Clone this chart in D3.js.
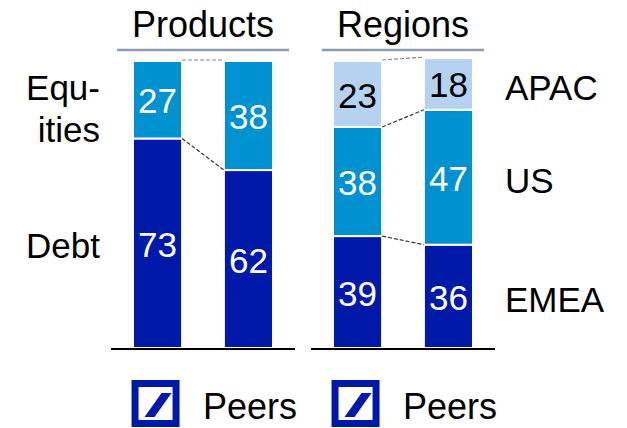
<!DOCTYPE html>
<html>
<head>
<meta charset="utf-8">
<script src="https://cdn.jsdelivr.net/npm/d3@7"></script>
<style>
  body { margin: 0; background: #fff; }
  text { font-family: "Liberation Sans", Arial, sans-serif; }
</style>
</head>
<body>
<svg id="grafico" width="627" height="428"></svg>
<script>
// Datos
var grupos = ["Products", "Regions"];
var barras = ["DB", "Peers"];
var claves_productos = ["Debt", "Equities"];
var claves_regiones = ["EMEA", "US", "APAC"];
var products_debt = [73, 62];
var products_equities = [27, 38];
var regions_emea = [39, 36];
var regions_us = [38, 47];
var regions_apac = [23, 18];
var etiquetas_izq = {"Equities": ["Equ-", "ities"], "Debt": ["Debt"]};
var etiquetas_der = {"APAC": ["APAC"], "US": ["US"], "EMEA": ["EMEA"]};

var colores = {
    "Debt": "#0019A8", "Equities": "#0092D0",
    "EMEA": "#0019A8", "US": "#0092D0", "APAC": "#B5D2F0"
};
var color_texto = {"APAC": "#000"};

var svg = d3.select("#grafico");

// Escalas
var x = d3.scaleBand().domain(grupos).range([103, 503]);
var xBarra = d3.scaleBand().domain(barras).range([0, 200])
    .paddingInner(0.46).paddingOuter(0.33);
var y = d3.scaleLinear().domain([0, 100]).range([348, 61]);
var bw = xBarra.bandwidth();

// Filas para cada grupo
var filas_productos = barras.map((b, i) => ({bar: b, Debt: products_debt[i], Equities: products_equities[i]}));
var filas_regiones = barras.map((b, i) => ({bar: b, EMEA: regions_emea[i], US: regions_us[i], APAC: regions_apac[i]}));

var pilas = {
    "Products": d3.stack().keys(claves_productos)(filas_productos),
    "Regions": d3.stack().keys(claves_regiones)(filas_regiones)
};

grupos.forEach(function(grupo){
    var g = svg.append("g").attr("transform", "translate(" + x(grupo) + ",0)");
    var capas = pilas[grupo];

    // Título y línea gris
    var titulo = g.append("text")
        .attr("x", x.bandwidth() / 2)
        .attr("y", 37)
        .attr("text-anchor", "middle")
        .style("font-size", "36px")
        .text(grupo);
    var ancho_titulo = titulo.node().getComputedTextLength();
    g.append("line")
        .attr("x1", x.bandwidth() / 2 - ancho_titulo / 2 - 15)
        .attr("x2", x.bandwidth() / 2 + ancho_titulo / 2 + 15)
        .attr("y1", 50).attr("y2", 50)
        .attr("stroke", "#8C9BB0")
        .attr("stroke-width", 2.5);

    // Segmentos
    capas.forEach(function(capa){
        g.selectAll(null)
            .data(capa)
            .enter()
            .append("rect")
            .attr("x", d => xBarra(d.data.bar))
            .attr("y", d => y(d[1]))
            .attr("width", bw)
            .attr("height", d => y(d[0]) - y(d[1]))
            .attr("fill", colores[capa.key])
            .attr("stroke", "#fff")
            .attr("stroke-width", 2);

        g.selectAll(null)
            .data(capa)
            .enter()
            .append("text")
            .attr("x", d => xBarra(d.data.bar) + bw / 2)
            .attr("y", d => (y(d[0]) + y(d[1])) / 2 + 13.5)
            .attr("text-anchor", "middle")
            .style("font-size", "35px")
            .attr("fill", color_texto[capa.key] || "#fff")
            .text(d => d[1] - d[0]);
    });

    // Conectores punteados
    capas.forEach(function(capa, i){
        var a = capa[0], b = capa[1];
        var arriba = i == capas.length - 1;
        g.append("line")
            .attr("x1", xBarra(a.data.bar) + bw)
            .attr("y1", y(a[1]) - (arriba ? 1 : 0))
            .attr("x2", xBarra(b.data.bar))
            .attr("y2", y(b[1]) - (arriba ? 1 : 0))
            .attr("stroke", arriba ? "#888" : "#333")
            .attr("stroke-width", 1.2)
            .attr("stroke-dasharray", "4,2");
    });

    // Línea base
    g.append("line")
        .attr("x1", 8).attr("x2", x.bandwidth() - 8)
        .attr("y1", y(0) + 1).attr("y2", y(0) + 1)
        .attr("stroke", "#000")
        .attr("stroke-width", 2);

    // Leyenda: logo y "Peers"
    var logo = g.append("g")
        .attr("transform", "translate(" + (xBarra("DB") + bw / 2 - 26) + ",380)");
    logo.append("rect").attr("width", 48).attr("height", 47).attr("fill", "#0019A8");
    logo.append("rect").attr("x", 7).attr("y", 7).attr("width", 34).attr("height", 33).attr("fill", "#fff");
    logo.append("polygon")
        .attr("points", "13,37 23,37 40,13 30,13")
        .attr("fill", "#0019A8");
    g.append("text")
        .attr("x", xBarra("Peers") + bw / 2 + 1.5)
        .attr("y", 419)
        .attr("text-anchor", "middle")
        .style("font-size", "36px")
        .text("Peers");
});

// Etiquetas a la izquierda (Products, primera barra)
pilas["Products"].forEach(function(capa){
    var d = capa[0];
    var lineas = etiquetas_izq[capa.key];
    var centro = (y(d[0]) + y(d[1])) / 2;
    var t = svg.append("text")
        .attr("text-anchor", "end")
        .style("font-size", "35px");
    lineas.forEach(function(l, i){
        t.append("tspan")
            .attr("x", 100)
            .attr("y", centro + 12.5 + (i - (lineas.length - 1) / 2) * 42 + (lineas.length > 1 ? 9 : 2))
            .text(l);
    });
});

// Etiquetas a la derecha (Regions, segunda barra)
pilas["Regions"].forEach(function(capa){
    var d = capa[1];
    svg.append("text")
        .attr("x", 505)
        .attr("y", (y(d[0]) + y(d[1])) / 2 + 16)
        .style("font-size", "35px")
        .text(etiquetas_der[capa.key][0]);
});
</script>
</body>
</html>
